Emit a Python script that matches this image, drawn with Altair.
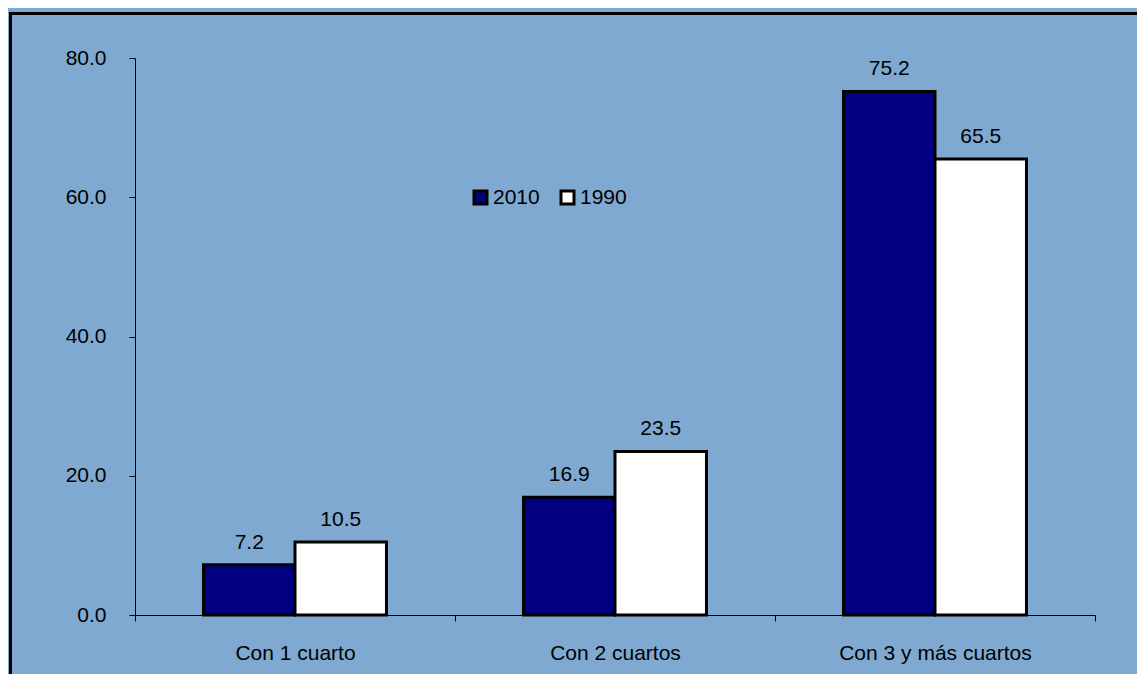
import altair as alt
import pandas as pd

categories = ["Con 1 cuarto", "Con 2 cuartos", "Con 3 y más cuartos"]
years = ["2010", "1990"]
values_2010 = [7.2, 16.9, 75.2]
values_1990 = [10.5, 23.5, 65.5]
y_ticks = [0, 20, 40, 60, 80]

rows = []
for c, a, b in zip(categories, values_2010, values_1990):
    rows.append({"cat": c, "year": "2010", "val": a})
    rows.append({"cat": c, "year": "1990", "val": b})
df = pd.DataFrame(rows)

FONT = "Liberation Sans"
BG = "#7FA9D0"
FS = 21

x_enc = alt.X("cat:N", sort=categories, title=None,
              scale=alt.Scale(paddingInner=0, paddingOuter=0),
              axis=alt.Axis(labelAngle=0, tickBand="extent", domainColor="black",
                            tickColor="black", tickSize=6, labelFontSize=FS,
                            labelFont=FONT, labelColor="black", labelPadding=21,
                            labelLimit=0, grid=False))
xoff = alt.XOffset("year:N", sort=years,
                   scale=alt.Scale(paddingInner=0, paddingOuter=0.749))
y_enc = alt.Y("val:Q", title=None,
              scale=alt.Scale(domain=[0, 80], nice=False),
              axis=alt.Axis(values=y_ticks, format=".1f", domainColor="black",
                            tickColor="black", tickSize=6, labelFontSize=FS,
                            labelFont=FONT, labelColor="black", labelPadding=23,
                            grid=False))

bars = alt.Chart(df).mark_bar(stroke="black", strokeWidth=3).encode(
    x=x_enc, xOffset=xoff, y=y_enc,
    color=alt.Color("year:N", sort=years, title=None,
                    scale=alt.Scale(domain=years, range=["#000080", "#FFFFFF"]),
                    legend=alt.Legend(orient="none", legendX=335, legendY=129,
                                      direction="horizontal", symbolType="square",
                                      symbolSize=169, symbolStrokeColor="black",
                                      symbolStrokeWidth=3, labelFontSize=FS,
                                      labelFont=FONT, labelColor="black",
                                      labelOffset=2, columnPadding=15, padding=0)),
)

labels = alt.Chart(df).mark_text(font=FONT, fontSize=FS, color="black",
                                 baseline="alphabetic", dy=-16).encode(
    x=alt.X("cat:N", sort=categories), xOffset=alt.XOffset("year:N", sort=years),
    y="val:Q", text=alt.Text("val:Q", format=".1f"),
)

frame_df = pd.DataFrame({"k": [0]})
frame = alt.Chart(frame_df).mark_rect(fill=None, stroke="black", strokeWidth=3).encode(
    x=alt.value(-124.5), x2=alt.value(1300), y=alt.value(-44.5), y2=alt.value(900)
)

chart = alt.layer(bars, labels, frame).properties(
    width=960, height=557,
    autosize=alt.AutoSizeParams(type="none"),
    padding={"left": 127, "top": 50, "right": 42, "bottom": 59},
    background=BG,
).configure_view(stroke=None)

chart.save("out.html", embed_options={"renderer": "svg", "actions": False})
